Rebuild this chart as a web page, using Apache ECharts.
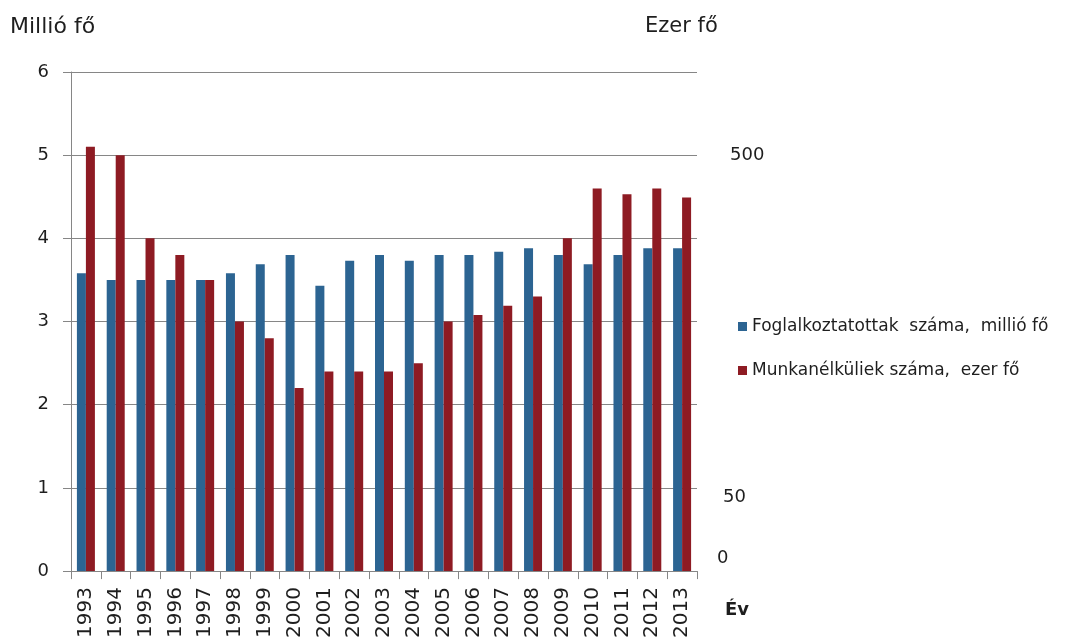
<!DOCTYPE html>
<html>
<head>
<meta charset="utf-8">
<script src="https://cdn.jsdelivr.net/npm/echarts@6/dist/echarts.min.js"></script>
<style>
  html, body { margin: 0; padding: 0; background: #fff; }
  #main { width: 1084px; height: 641px; }
</style>
</head>
<body>
<div id="main"></div>
<script>
var myChart = echarts.init(document.getElementById('main'));

// évek
var years = ['1993', '1994', '1995', '1996', '1997', '1998', '1999', '2000', '2001', '2002',
    '2003', '2004', '2005', '2006', '2007', '2008', '2009', '2010', '2011', '2012', '2013'];
// foglalkoztatottak, millió fő
var employed = [3.58, 3.5, 3.5, 3.5, 3.5, 3.58, 3.69, 3.8, 3.43, 3.73,
    3.8, 3.73, 3.8, 3.8, 3.84, 3.88, 3.8, 3.69, 3.8, 3.88, 3.88];
// munkanélküliek, ezer fő
var unemployed = [510, 500, 400, 380, 350, 300, 280, 220, 240, 240,
    240, 250, 300, 308, 319, 330, 400, 460, 453, 460, 449];
var seriesNames = ['Foglalkoztatottak  száma,  millió fő', 'Munkanélküliek száma,  ezer fő'];

var font = 'DejaVu Sans';
var lineColor = '#868686';
var txt = '#1e1e1e';

option = {
    animation: false,
    textStyle: { fontFamily: font, color: txt },
    grid: {
        left: 71,
        right: 387,
        top: 72,
        bottom: 64
    },
    legend: {
        orient: 'vertical',
        left: 733,
        top: 313,
        itemWidth: 9,
        itemHeight: 9,
        itemGap: 27,
        icon: 'rect',
        textStyle: { fontFamily: font, fontSize: 17, color: txt },
        data: seriesNames
    },
    xAxis: {
        type: 'category',
        data: years,
        axisLine: { lineStyle: { color: lineColor } },
        axisTick: { show: true, length: 8, lineStyle: { color: lineColor } },
        axisLabel: {
            rotate: 90,
            margin: 16,
            fontSize: 20,
            fontFamily: font,
            color: txt
        }
    },
    yAxis: [{
        type: 'value',
        min: 0,
        max: 6,
        interval: 1,
        axisLine: { show: true, lineStyle: { color: lineColor } },
        axisTick: { show: true, length: 8, lineStyle: { color: lineColor } },
        axisLabel: { fontSize: 18, margin: 22, color: txt },
        splitLine: { lineStyle: { color: lineColor } }
    }, {
        type: 'value',
        min: 0,
        max: 600,
        interval: 100,
        position: 'right',
        axisLine: { show: false },
        axisTick: { show: false },
        splitLine: { show: false },
        axisLabel: {
            fontSize: 18,
            margin: 33,
            color: txt,
            padding: [0, 0, 6, 0],
            formatter: function (v) {
                return v === 500 ? '500' : '';
            }
        }
    }],
    graphic: [
        { type: 'text', left: 10, top: 16, style: { text: 'Millió fő', font: '22px "DejaVu Sans"', fill: txt } },
        { type: 'text', left: 645, top: 16, style: { text: 'Ezer fő', font: '21px "DejaVu Sans"', fill: txt } },
        { type: 'text', left: 723, top: 488, style: { text: '50', font: '18px "DejaVu Sans"', fill: txt } },
        { type: 'text', left: 717, top: 549, style: { text: '0', font: '18px "DejaVu Sans"', fill: txt } },
        { type: 'text', left: 725, top: 601, style: { text: 'Év', font: 'bold 18px "DejaVu Sans"', fill: txt } }
    ],
    series: [{
        name: seriesNames[0],
        type: 'bar',
        yAxisIndex: 0,
        data: employed,
        barWidth: 9,
        barGap: '0%',
        itemStyle: { color: '#2c6492' }
    }, {
        name: seriesNames[1],
        type: 'bar',
        yAxisIndex: 1,
        data: unemployed,
        barWidth: 9,
        barGap: '0%',
        itemStyle: { color: '#8e1b23' }
    }]
};
myChart.setOption(option);
</script>
</body>
</html>
